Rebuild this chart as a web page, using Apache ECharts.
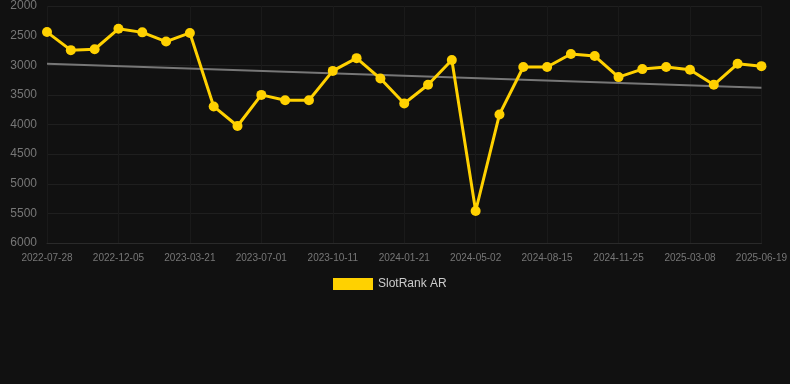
<!DOCTYPE html>
<html><head><meta charset="utf-8">
<script src="https://cdn.jsdelivr.net/npm/echarts@6/dist/echarts.min.js"></script>
<style>html,body{margin:0;padding:0;background:#111111;}#c{width:790px;height:384px;}</style>
</head><body><div id="c"></div>
<script>
const dates = ["2022-07-28","2022-09-10","2022-10-23","2022-12-05","2023-01-08","2023-02-11","2023-03-21","2023-04-24","2023-05-28","2023-07-01","2023-08-04","2023-09-07","2023-10-11","2023-11-14","2023-12-18","2024-01-21","2024-02-24","2024-03-29","2024-05-02","2024-06-05","2024-07-10","2024-08-15","2024-09-18","2024-10-22","2024-11-25","2024-12-29","2025-02-01","2025-03-08","2025-04-11","2025-05-15","2025-06-19"];
const rankValues = [2440,2745,2730,2385,2445,2600,2455,3695,4025,3500,3590,3590,3095,2880,3225,3645,3330,2910,5460,3830,3030,3030,2810,2845,3200,3065,3030,3075,3330,2975,3015];
const trendStart = 2975;
const trendEnd = 3380;
const seriesName = "SlotRank AR";

const chart = echarts.init(document.getElementById('c'), null, {renderer:'canvas'});
chart.setOption({
  backgroundColor: '#111111',
  animation: false,
  grid: {left: 47, right: 28, top: 6, bottom: 141, containLabel: false},
  legend: {
    data: [seriesName], top: 273, left: 328,
    itemWidth: 40, itemHeight: 12, icon: 'rect',
    textStyle: {color: '#cccccc', fontSize: 12, fontFamily: 'Liberation Sans, Arial, sans-serif'}
  },
  xAxis: {
    type: 'category', data: dates, boundaryGap: false,
    axisLine: {show: true, lineStyle: {color: '#2a2a2a'}},
    axisTick: {show: false},
    axisLabel: {interval: 2, color: '#777777', fontSize: 10, margin: 10, fontFamily: 'Liberation Sans, Arial, sans-serif'},
    splitLine: {show: true, interval: 2, lineStyle: {color: '#1a1a1a'}}
  },
  yAxis: {
    type: 'value', inverse: true, min: 2000, max: 6000, interval: 500,
    axisLine: {show: false}, axisTick: {show: false},
    axisLabel: {color: '#777777', fontSize: 12, margin: 10, formatter: v => String(v), fontFamily: 'Liberation Sans, Arial, sans-serif'},
    splitLine: {lineStyle: {color: '#1f1f1f'}}
  },
  series: [
    {
      name: 'trend', type: 'line', silent: true,
      data: [[dates[0], trendStart], [dates[dates.length-1], trendEnd]],
      symbol: 'none', lineStyle: {color: '#777777', width: 2}, z: 1
    },
    {
      name: seriesName, type: 'line', data: rankValues,
      symbol: 'circle', symbolSize: 10,
      itemStyle: {color: '#FFD100'},
      lineStyle: {color: '#FFD100', width: 3}, z: 2
    }
  ]
});
</script>
</body></html>
